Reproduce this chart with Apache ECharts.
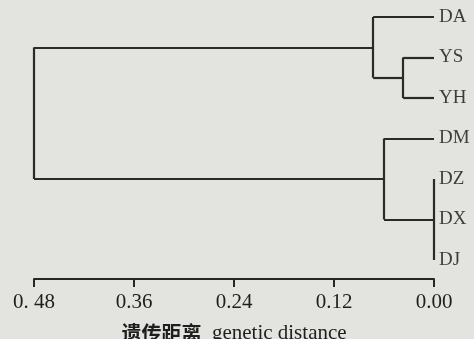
<!DOCTYPE html>
<html>
<head>
<meta charset="utf-8">
<script src="https://cdn.jsdelivr.net/npm/echarts@6/dist/echarts.min.js"></script>
<style>
html,body{margin:0;padding:0;background:#e3e3df;}
#c{width:474px;height:339px;}
</style>
</head>
<body>
<div id="c"></div>
<script>
// Leaves in display order (top to bottom)
const leaves = ['DA', 'YS', 'YH', 'DM', 'DZ', 'DX', 'DJ'];
// Merge steps: children and genetic distance at which they join
const mergeNames = ['A', 'B', 'C', 'D', 'root'];
const mergeChildren = [['YS', 'YH'], ['DA', 'A'], ['DZ', 'DX', 'DJ'], ['DM', 'C'], ['B', 'D']];
const mergeHeights = [0.037, 0.073, 0.0, 0.060, 0.48];
// Axis tick labels
const tickValues = [0.48, 0.36, 0.24, 0.12, 0.00];
const tickLabels = ['0. 48', '0.36', '0.24', '0.12', '0.00'];

// Build node positions
const node = {};
leaves.forEach((n, i) => { node[n] = { x: 0, y: i }; });
const segs = [];
mergeNames.forEach((m, k) => {
  const h = mergeHeights[k];
  const ch = mergeChildren[k].map(c => node[c]);
  const ys = ch.map(c => c.y);
  const yMin = Math.min(...ys), yMax = Math.max(...ys);
  segs.push({ coords: [[h, yMin], [h, yMax]] });
  ch.forEach(c => { if (c.x !== h) segs.push({ coords: [[c.x, c.y], [h, c.y]] }); });
  const yc = ch.length === 3 ? ys[1] : (yMin + yMax) / 2;
  node[m] = { x: h, y: yc };
});

const chart = echarts.init(document.getElementById('c'));
chart.setOption({
  backgroundColor: '#e3e3df',
  animation: false,
  grid: { left: 34, right: 40, top: 17, bottom: 60, containLabel: false, outerBoundsMode: 'none' },
  xAxis: {
    type: 'value', min: 0, max: 0.48, interval: 0.12, inverse: true,
    splitLine: { show: false },
    axisLine: { show: true, onZero: false, lineStyle: { color: '#262626', width: 2 } },
    axisTick: { show: true, length: 8, lineStyle: { color: '#262626', width: 2 } },
    axisLabel: {
      margin: 13, color: '#1e1e1e', fontFamily: 'Liberation Serif', fontSize: 21,
      formatter: v => { const i = tickValues.findIndex(t => Math.abs(t - v) < 1e-6); return i >= 0 ? tickLabels[i] : ''; }
    },
    name: '{zh|遗传距离}{en|  genetic distance}',
    nameLocation: 'middle', nameGap: 44,
    nameTextStyle: {
      rich: {
        zh: { fontFamily: 'Noto Sans CJK SC', fontWeight: 'bold', fontSize: 20, color: '#1e1e1e' },
        en: { fontFamily: 'Liberation Serif', fontSize: 21, color: '#1e1e1e' }
      }
    }
  },
  yAxis: { type: 'value', min: 0, max: 6.47, inverse: true, show: false },
  series: [
    {
      type: 'lines', coordinateSystem: 'cartesian2d', polyline: false,
      lineStyle: { color: '#2a2a2a', width: 2.2, opacity: 1 },
      data: segs
    },
    {
      type: 'scatter', symbolSize: 0,
      data: leaves.map((n, i) => ({ value: [0, i], name: n })),
      label: {
        show: true, position: 'right', distance: 5, formatter: p => p.name,
        fontFamily: 'Liberation Serif', fontSize: 19, color: '#111'
      }
    }
  ]
});
</script>
</body>
</html>
